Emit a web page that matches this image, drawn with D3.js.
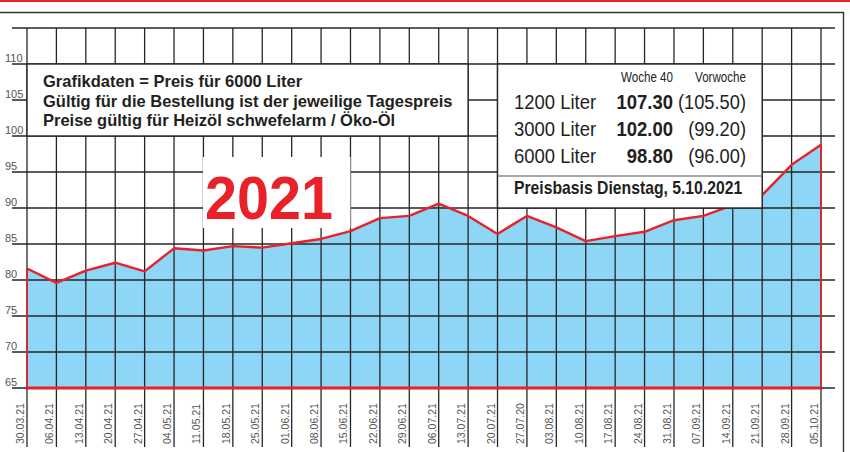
<!DOCTYPE html>
<html><head><meta charset="utf-8">
<script src="https://cdn.jsdelivr.net/npm/d3@7"></script>
<style>
html,body{margin:0;padding:0;background:#fff;}
svg{display:block;}
.reg{font-family:"Liberation Sans",Arial,Helvetica,sans-serif;}
</style></head>
<body>
<svg id="c" width="850" height="452"></svg>
<script>
const dates = ["30.03.21","06.04.21","13.04.21","20.04.21","27.04.21","04.05.21","11.05.21","18.05.21","25.05.21","01.06.21","08.06.21","15.06.21","22.06.21","29.06.21","06.07.21","13.07.21","20.07.21","27.07.20","03.08.21","10.08.21","17.08.21","24.08.21","31.08.21","07.09.21","14.09.21","21.09.21","28.09.21","05.10.21"];
const prices = [81.6,79.6,81.3,82.4,81.2,84.4,84.1,84.7,84.5,85.1,85.7,86.8,88.6,88.9,90.6,88.9,86.4,88.9,87.3,85.4,86.1,86.7,88.3,88.9,90.4,91.8,96.0,98.8];
const yTickLabels = [65,70,75,80,85,90,95,100,105,110];
const yGrid = [65,70,75,80,85,90,95,100,105,110,115];
const infoLines = ["Grafikdaten = Preis für 6000 Liter","Gültig für die Bestellung ist der jeweilige Tagespreis","Preise gültig für Heizöl schwefelarm / Öko-Öl"];
const legendHeader = ["Woche 40","Vorwoche"];
const legendVolumes = ["1200 Liter","3000 Liter","6000 Liter"];
const legendCurrent = [107.30,102.00,98.80];
const legendPrevious = [105.50,99.20,96.00];
const priceBasis = "Preisbasis Dienstag, 5.10.2021";
const yearLabel = "2021";

const svg = d3.select("#c");
const RED = "#e8212b", GRID = "#262626", BLUE = "#8dd6f5", INK = "#231f20";
const x = d3.scalePoint().domain(dates).range([27, 821]);
const y = d3.scaleLinear().domain([65, 115]).range([388, 28]);

svg.append("rect").attr("x",0).attr("y",0).attr("width",850).attr("height",452).attr("fill","#fff");
svg.append("line").attr("x1",0).attr("x2",850).attr("y1",1).attr("y2",1).attr("stroke",RED).attr("stroke-width",2);
svg.append("path").attr("d","M0,12.5H843.5V452").attr("fill","none").attr("stroke","#333").attr("stroke-width",1.4);

const pts = dates.map((d,i)=>[d, prices[i]]);
const area = d3.area().x(d=>x(d[0])).y0(y(65)).y1(d=>y(d[1]));
svg.append("path").datum(pts).attr("d",area).attr("fill",BLUE);

svg.append("g").selectAll("line").data(yGrid).join("line")
  .attr("x1",12).attr("x2",835).attr("y1",d=>y(d)).attr("y2",d=>y(d))
  .attr("stroke",GRID).attr("stroke-width",1.3);
svg.append("g").selectAll("line").data(dates).join("line")
  .attr("x1",d=>x(d)).attr("x2",d=>x(d)).attr("y1",y(115)).attr("y2",447)
  .attr("stroke",GRID).attr("stroke-width",1.3);

svg.append("g").attr("class","reg").selectAll("text").data(yTickLabels).join("text")
  .attr("x",5).attr("y",d=>y(d)-2).attr("font-size",11).attr("fill","#555").text(d=>d);
svg.append("g").attr("class","reg").selectAll("text").data(dates).join("text")
  .attr("transform",d=>`translate(${x(d)-3},444) rotate(-90)`)
  .attr("font-size",10.5).attr("fill","#555").text(d=>d);

const line = d3.line().x(d=>x(d[0])).y(d=>y(d[1]));
svg.append("path").datum(pts).attr("d",line).attr("fill","none").attr("stroke",RED).attr("stroke-width",2.4).attr("stroke-linejoin","round");
svg.append("line").attr("x1",x(dates[0])).attr("x2",x(dates[dates.length-1])).attr("y1",y(65)).attr("y2",y(65)).attr("stroke",RED).attr("stroke-width",3.2);
[0, dates.length-1].forEach(i=>{
  svg.append("line").attr("x1",x(dates[i])).attr("x2",x(dates[i])).attr("y1",y(prices[i])).attr("y2",y(65)).attr("stroke",RED).attr("stroke-width",1.8);
});

// info box
svg.append("rect").attr("x",x(dates[0])).attr("y",y(110)).attr("width",x(dates[15])-x(dates[0])).attr("height",y(100)-y(110))
  .attr("fill","#fff").attr("stroke",GRID).attr("stroke-width",1.4);
svg.append("g").attr("class","reg").selectAll("text").data(infoLines).join("text")
  .attr("x",43).attr("y",(d,i)=>87+i*19.5).attr("font-size",16.5).attr("font-weight","bold").attr("fill",INK).text(d=>d);

// year box
svg.append("rect").attr("x",203).attr("y",157).attr("width",x(dates[11])-203).attr("height",71).attr("fill","#fff");
svg.append("text").attr("class","reg").attr("x",205).attr("y",219).attr("font-size",62).attr("font-weight","bold")
  .attr("fill",RED).attr("textLength",128).attr("lengthAdjust","spacingAndGlyphs").text(yearLabel);

// legend box
const lx0 = x(dates[16]), lx1 = x(dates[25]);
svg.append("rect").attr("x",lx0).attr("y",y(110)).attr("width",lx1-lx0).attr("height",y(90)-y(110))
  .attr("fill","#fff").attr("stroke",GRID).attr("stroke-width",1.4);
svg.append("line").attr("x1",lx0).attr("x2",lx1).attr("y1",176).attr("y2",176).attr("stroke","#555").attr("stroke-width",1.2);
const lg = svg.append("g").attr("class","reg").attr("fill",INK);
const cond = (sx)=>(px,py)=>`translate(${px},${py}) scale(${sx},1)`;
lg.selectAll("text.h").data(legendHeader).join("text").attr("class","h")
  .attr("transform",(d,i)=>cond(0.8)([673,746][i],82)).attr("text-anchor","end").attr("font-size",14.5).text(d=>d);
lg.selectAll("text.v").data(legendVolumes).join("text").attr("class","v")
  .attr("transform",(d,i)=>cond(0.88)(514,109+i*27)).attr("font-size",21).text(d=>d);
lg.selectAll("text.c").data(legendCurrent).join("text").attr("class","c")
  .attr("transform",(d,i)=>cond(0.88)(673,109+i*27)).attr("text-anchor","end").attr("font-size",21).attr("font-weight","bold").text(d=>d.toFixed(2));
lg.selectAll("text.p").data(legendPrevious).join("text").attr("class","p")
  .attr("transform",(d,i)=>cond(0.87)(746,109+i*27)).attr("text-anchor","end").attr("font-size",21).text(d=>"("+d.toFixed(2)+")");
lg.append("text").attr("transform",cond(0.9)(514,194)).attr("font-size",17.5).attr("font-weight","bold").text(priceBasis);
</script>
</body></html>
